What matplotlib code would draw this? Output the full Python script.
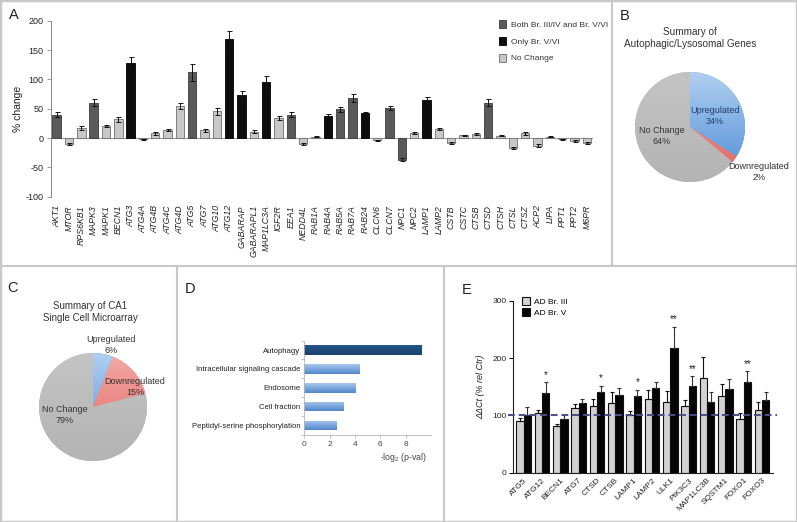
import numpy as np
import matplotlib
matplotlib.use("Agg")
import matplotlib.pyplot as plt
from matplotlib.patches import Rectangle, Patch
from matplotlib.lines import Line2D
from matplotlib.colors import LinearSegmentedColormap

plt.rcParams['font.family'] = ['Liberation Sans', 'DejaVu Sans']
plt.rcParams['mathtext.fontset'] = 'custom'
plt.rcParams['mathtext.rm'] = 'Liberation Sans'
plt.rcParams['mathtext.it'] = 'Liberation Sans:italic'
plt.rcParams['mathtext.default'] = 'regular'
plt.rcParams['axes.unicode_minus'] = False

W, H = 797, 522

# ---------------- data ----------------
# Panel A: % change per gene, group: B = both Br. III/IV and V/VI, V = only V/VI, N = no change
genes_a = ["AKT1", "MTOR", "RPS6KB1", "MAPK3", "MAPK1", "BECN1", "ATG3", "ATG4A", "ATG4B",
           "ATG4C", "ATG4D", "ATG5", "ATG7", "ATG10", "ATG12", "GABARAP", "GABARAPL1",
           "MAP1LC3A", "IGF2R", "EEA1", "NEDD4L", "RAB1A", "RAB4A", "RAB5A", "RAB7A", "RAB24",
           "CLCN6", "CLCN7", "NPC1", "NPC2", "LAMP1", "LAMP2", "CSTB", "CSTC", "CTSB", "CTSD",
           "CTSH", "CTSL", "CTSZ", "ACP2", "LIPA", "PPT1", "PPT2", "M6PR"]
change_a = [40, -10, 17, 60, 21, 32, 128, -2, 8, 14, 54, 112, 13, 46, 168, 74, 11, 96, 34, 40,
            -10, 2, 38, 49, 68, 42, -4, 51, -37, 9, 65, 15, -8, 5, 7, 60, 4, -17, 8, -13, 2,
            -2, -5, -9]
err_a = [5, 2, 3, 6, 2, 4, 10, 1, 2, 2, 5, 15, 2, 6, 14, 6, 2, 10, 3, 4, 2, 1, 3, 4, 7, 3, 1,
         4, 3, 2, 5, 2, 2, 1, 2, 6, 1, 2, 2, 2, 1, 1, 1, 2]
group_a = ["B", "N", "N", "B", "N", "N", "V", "N", "N", "N", "N", "B", "N", "N", "V", "V", "N",
           "V", "N", "B", "N", "N", "V", "B", "B", "V", "N", "B", "B", "N", "V", "N", "N", "N",
           "N", "B", "N", "N", "N", "N", "N", "N", "N", "N"]
legend_a = {"B": "Both Br. III/IV and Br. V/VI", "V": "Only Br. V/VI", "N": "No Change"}

# Panel B / C: pie summaries
pie_labels = ["Upregulated", "Downregulated", "No Change"]
pie_b = [34, 2, 64]
pie_c = [6, 15, 79]

# Panel D: enrichment
terms_d = ["Autophagy", "Intracellular signaling cascade", "Endosome", "Cell fraction",
           "Peptidyl-serine phosphorylation"]
logp_d = [9.3, 4.4, 4.05, 3.1, 2.6]

# Panel E: qPCR
genes_e = ["ATG5", "ATG12", "BECN1", "ATG7", "CTSD", "CTSB", "LAMP1", "LAMP2", "ULK1",
           "PIK3C3", "MAP1LC3B", "SQSTM1", "FOXO1", "FOXO3"]
br3_e = [90, 104, 82, 113, 116, 122, 100, 128, 124, 116, 166, 134, 94, 109]
br3_err = [6, 6, 3, 7, 13, 18, 7, 17, 18, 10, 35, 21, 10, 14]
br5_e = [101, 139, 94, 121, 141, 135, 134, 148, 218, 152, 124, 146, 159, 127]
br5_err = [13, 19, 6, 8, 11, 12, 11, 11, 37, 16, 16, 18, 18, 14]
stars_e = ["", "*", "", "", "*", "", "*", "", "**", "**", "", "", "**", ""]


fig = plt.figure(figsize=(W / 100, H / 100), dpi=100)


def add_ax(left, top, right, bottom):
    # axes placed by pixel edges
    return fig.add_axes([left / W, 1 - bottom / H, (right - left) / W, (bottom - top) / H])


def gradient_fill(ax, patch, c_top, c_bottom, extent):
    grad = np.linspace(0, 1, 64).reshape(-1, 1)
    cmap = LinearSegmentedColormap.from_list("g", [c_top, c_bottom])
    im = ax.imshow(grad, cmap=cmap, extent=extent, aspect="auto", origin="upper",
                   zorder=patch.get_zorder() + 0.1, interpolation="bilinear")
    im.set_clip_path(patch)


# ---------------- panel frames ----------------
border = "#c8c8c8"
fig.add_artist(Rectangle((0, 0), 1, 1, transform=fig.transFigure, fill=False, ec=border, lw=2.5))
for x0, y0, x1, y1 in [(0, 266, 797, 266), (612, 0, 612, 266), (177, 266, 177, 522), (444, 266, 444, 522)]:
    fig.add_artist(Line2D([x0 / W, x1 / W], [1 - y0 / H, 1 - y1 / H], color=border, lw=1.5))

for letter, x, y in [("A", 14, 15), ("B", 625, 16), ("C", 13, 288), ("D", 190, 289), ("E", 467, 290)]:
    fig.text(x / W, 1 - y / H, letter, fontsize=10.5, ha="center", va="center", color="#222")

# ---------------- panel A ----------------
colors_a = {"B": "#5a5a5a", "V": "#0d0d0d", "N": "#c8c8c8"}
edges_a = {"B": "#3a3a3a", "V": "#000000", "N": "#6f6f6f"}
ax = add_ax(50.5, 20.7, 593, 196.7)
xa = np.arange(len(genes_a))
ax.bar(xa, change_a, width=0.68, color=[colors_a[g] for g in group_a],
       edgecolor=[edges_a[g] for g in group_a], lw=0.6, zorder=2)
ax.errorbar(xa, change_a, yerr=err_a, fmt="none", ecolor="#111", elinewidth=0.7,
            capsize=1.8, capthick=0.7, zorder=3)
ax.axhline(0, color="#9a9a9a", lw=0.8, zorder=1)
ax.set_xlim(-0.5, len(genes_a) - 0.5)
ax.set_ylim(-100, 200)
ax.set_yticks([-100, -50, 0, 50, 100, 150, 200])
ax.set_xticks(xa)
ax.set_xticklabels(genes_a, rotation=90, fontstyle="italic", fontsize=6.3, color="#222")
ax.tick_params(axis="x", length=0, pad=6)
ax.tick_params(axis="y", length=3, width=0.6, color="#888", labelsize=6.5, labelcolor="#222", pad=2)
for s in ["top", "right", "bottom"]:
    ax.spines[s].set_visible(False)
ax.spines["left"].set_color("#888")
ax.spines["left"].set_linewidth(0.7)
ax.set_ylabel("% change", fontsize=7.5, color="#222")
ax.yaxis.set_label_coords(-0.05, 0.5)
handles = [Patch(fc=colors_a[k], ec=edges_a[k], lw=0.6, label=legend_a[k]) for k in ["B", "V", "N"]]
ax.legend(handles=handles, loc="upper left", bbox_to_anchor=(499 / W, 1 - 20 / H),
          bbox_transform=fig.transFigure, frameon=False, fontsize=6, handlelength=0.8,
          handleheight=1.1, handletextpad=0.6, labelspacing=0.95, borderpad=0, borderaxespad=0,
          labelcolor="#333")

# ---------------- pies ----------------
pie_top = ["#b0cff1", "#f3aaa6", "#c4c4c4"]
pie_bot = ["#4c8cd4", "#e2625e", "#b4b4b4"]


def draw_pie(cx, cy, r, values, label_pos, text_colors):
    axp = add_ax(cx - r, cy - r, cx + r, cy + r)
    wedges, _ = axp.pie(values, startangle=90, counterclock=False, radius=1,
                        colors=pie_bot, wedgeprops=dict(lw=0))
    for w, ct, cb in zip(wedges, pie_top, pie_bot):
        gradient_fill(axp, w, ct, cb, (-1, 1, -1, 1))
    axp.set_xlim(-1, 1)
    axp.set_ylim(-1, 1)
    axp.set_aspect("equal")
    axp.axis("off")
    for lab, v, (px, py), tc in zip(pie_labels, values, label_pos, text_colors):
        axp.text((px - cx) / r, (cy - py) / r, "%s\n%d%%" % (lab, v), ha="center", va="center",
                 fontsize=6.5, color=tc, linespacing=1.15, zorder=5)
    return axp


fig.text(690 / W, 1 - 38 / H, "Summary of\nAutophagic/Lysosomal Genes", ha="center", va="center",
         fontsize=7.2, color="#333", linespacing=1.3)
draw_pie(690, 127, 55, pie_b, [(715, 116), (759, 172), (662, 136)], ["#1f3f70", "#333", "#333"])

fig.text(90 / W, 1 - 312 / H, "Summary of CA1\nSingle Cell Microarray", ha="center", va="center",
         fontsize=7, color="#333", linespacing=1.3)
draw_pie(93, 407, 54, pie_c, [(111, 345), (135, 387), (65, 415)], ["#333", "#333", "#333"])

# ---------------- panel D ----------------
axd = add_ax(304.3, 340.6, 431, 435)
yd = np.arange(len(terms_d))[::-1]
bars = axd.barh(yd, logp_d, height=0.5, color="#6d9ad6", lw=0, zorder=2)
for i, b in enumerate(bars):
    ext = (b.get_x(), b.get_x() + b.get_width(), b.get_y(), b.get_y() + b.get_height())
    if i == 0:
        gradient_fill(axd, b, "#24548a", "#1a416d", ext)
    else:
        gradient_fill(axd, b, "#a8c7ee", "#5288cb", ext)
axd.set_xlim(0, 10)
axd.set_ylim(-0.5, len(terms_d) - 0.5)
axd.set_aspect("auto")
axd.set_xticks([0, 2, 4, 6, 8])
axd.set_yticks(yd)
axd.set_yticklabels(terms_d, fontsize=5.6, color="#222")
axd.set_yticks(np.arange(len(terms_d) + 1) - 0.5, minor=True)
axd.tick_params(axis="y", which="major", length=0, pad=3)
axd.tick_params(axis="y", which="minor", length=2, color="#aaa", width=0.5)
axd.tick_params(axis="x", length=2, color="#aaa", width=0.5, labelsize=6, labelcolor="#444", pad=2)
for s in ["top", "right"]:
    axd.spines[s].set_visible(False)
for s in ["left", "bottom"]:
    axd.spines[s].set_color("#b5b5b5")
    axd.spines[s].set_linewidth(0.6)
axd.set_xlabel("-log$_2$ (p-val)", fontsize=6.3, color="#444")
axd.xaxis.set_label_coords(0.78, -0.17)

# ---------------- panel E ----------------
axe = add_ax(513, 300.7, 773, 472.7)
xe = np.arange(len(genes_e))
axe.bar(xe - 0.2, br3_e, width=0.4, color="#d2d2d2", edgecolor="#111", lw=0.8, zorder=2,
        label="AD Br. III")
axe.bar(xe + 0.2, br5_e, width=0.4, color="#050505", edgecolor="#111", lw=0.8, zorder=2,
        label="AD Br. V")
axe.errorbar(xe - 0.2, br3_e, yerr=[np.zeros(len(br3_e)), br3_err], fmt="none", ecolor="#111",
             elinewidth=0.8, capsize=1.6, capthick=0.8, zorder=3)
axe.errorbar(xe + 0.2, br5_e, yerr=[np.zeros(len(br5_e)), br5_err], fmt="none", ecolor="#333",
             elinewidth=0.8, capsize=1.6, capthick=0.8, zorder=3)
for x, v, e, s in zip(xe, br5_e, br5_err, stars_e):
    if s:
        axe.text(x + 0.2, v + e + 4, s, ha="center", va="bottom", fontsize=7, color="#222")
axe.axhline(100, xmin=-0.02, xmax=1.015, color="#4b4c8c", lw=1.4, ls=(0, (3.5, 2)),
            clip_on=False, zorder=4)
axe.set_xlim(-0.58, len(genes_e) - 0.4)
axe.set_ylim(0, 300)
axe.set_yticks([0, 100, 200, 300])
axe.set_xticks(xe)
axe.set_xticklabels(genes_e, rotation=45, ha="right", rotation_mode="anchor", fontsize=6, color="#222")
axe.tick_params(axis="x", length=0, pad=3)
axe.tick_params(axis="y", length=3, width=0.7, labelsize=6, labelcolor="#222", pad=1.5)
for s in ["top", "right"]:
    axe.spines[s].set_visible(False)
for s in ["left", "bottom"]:
    axe.spines[s].set_color("#222")
    axe.spines[s].set_linewidth(0.8)
axe.set_ylabel("ΔΔCt (% rel Ctr)", fontsize=6.5, fontstyle="italic", color="#222", labelpad=5)
axe.legend(loc="upper left", bbox_to_anchor=(522 / W, 1 - 297 / H), bbox_transform=fig.transFigure,
           frameon=False, fontsize=6, handlelength=1.0, handleheight=1.1, handletextpad=0.5,
           labelspacing=0.3, borderpad=0, borderaxespad=0)

fig.savefig("out.png", dpi=100)
